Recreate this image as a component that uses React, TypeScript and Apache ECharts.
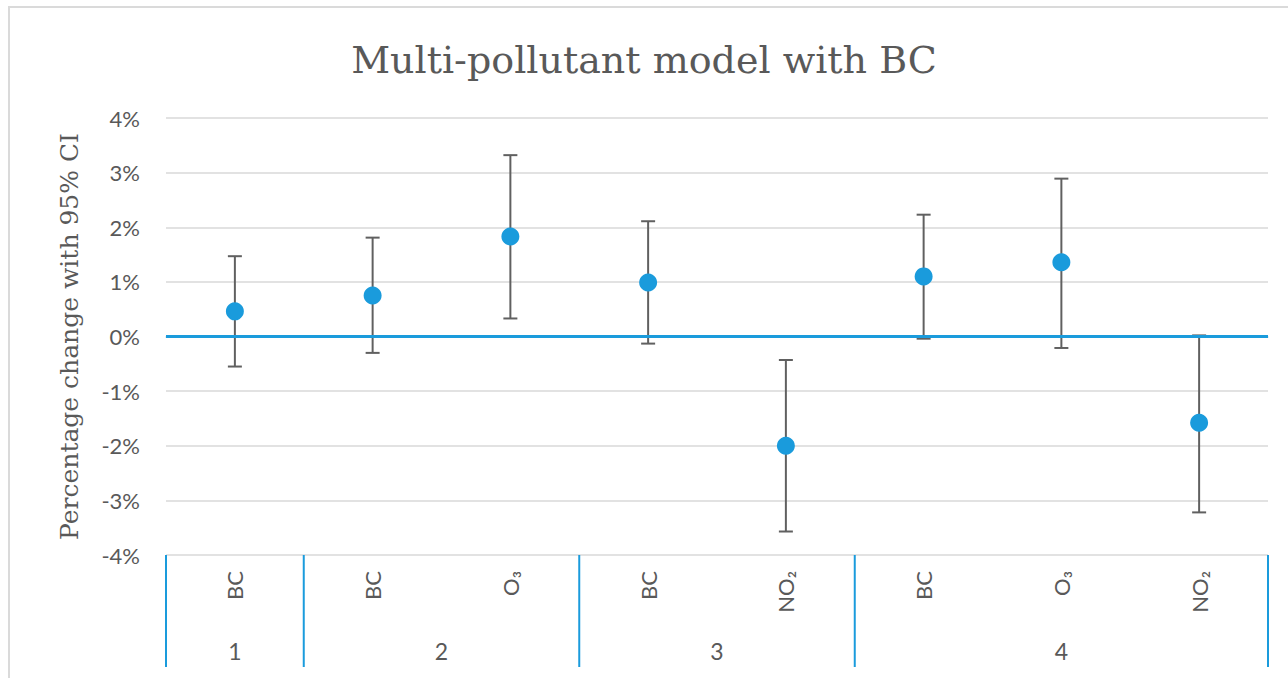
import React, { useEffect, useRef } from "react";
import * as echarts from "echarts";

// Pollutant per model column (models 1–4)
const categories = ["BC", "BC", "O₃", "BC", "NO₂", "BC", "O₃", "NO₂"];
// Point estimates and 95% CI bounds, in percent
const estimates = [0.46, 0.75, 1.83, 0.99, -2.0, 1.1, 1.36, -1.58];
const lowerCI = [-0.55, -0.3, 0.33, -0.13, -3.57, -0.04, -0.21, -3.22];
const upperCI = [1.47, 1.81, 3.32, 2.11, -0.43, 2.23, 2.89, 0.02];
// Model groups: label, first column, last column + 1
const groupLabels = ["1", "2", "3", "4"];
const groupBounds = [0, 1, 3, 5, 8];
const yTicks = [-4, -3, -2, -1, 0, 1, 2, 3, 4];

const GRAY_TEXT = "#595959";
const BLUE = "#1A9BDC";
const GRID = "#D9D9D9";
const SANS = "Lato, 'DejaVu Sans', sans-serif";
const SERIF = "'DejaVu Serif', 'Liberation Serif', serif";

export default function App() {
  const ref = useRef<HTMLDivElement>(null);

  useEffect(() => {
    if (!ref.current) return;
    const chart = echarts.init(ref.current, null, { renderer: "svg" });

    const yMin = yTicks[0];
    const groupCenters = groupLabels.map((_, i) => [
      (groupBounds[i] + groupBounds[i + 1]) / 2,
      i,
    ]);

    chart.setOption({
      animation: false,
      backgroundColor: "#ffffff",
      title: {
        text: "Multi-pollutant model with BC",
        left: "center",
        top: 36,
        textStyle: {
          fontFamily: SERIF,
          fontSize: 38,
          fontWeight: "normal",
          color: GRAY_TEXT,
        },
      },
      graphic: [
        {
          type: "rect",
          shape: { x: 9, y: 7, width: 1300, height: 700 },
          style: { fill: "none", stroke: "#DADADA", lineWidth: 2 },
          silent: true,
        },
      ],
      grid: { left: 166, right: 20, top: 118, bottom: 123 },
      xAxis: [
        {
          type: "category",
          data: categories,
          boundaryGap: true,
          axisLine: { show: true, lineStyle: { color: GRID, width: 1.5 } },
          axisTick: { show: false },
          axisLabel: {
            rotate: 90,
            margin: 16,
            fontFamily: SANS,
            fontSize: 22,
            color: GRAY_TEXT,
          },
          splitLine: { show: false },
        },
        {
          type: "value",
          min: 0,
          max: categories.length,
          show: false,
        },
      ],
      yAxis: {
        type: "value",
        min: yMin,
        max: yTicks[yTicks.length - 1],
        interval: 1,
        name: "Percentage change with 95% CI",
        nameLocation: "middle",
        nameGap: 84,
        nameRotate: 90,
        nameTextStyle: {
          fontFamily: SERIF,
          fontSize: 25,
          color: GRAY_TEXT,
        },
        axisLine: { show: false },
        axisTick: { show: false },
        axisLabel: {
          formatter: (v: number) => `${v}%`,
          margin: 26,
          fontFamily: SANS,
          fontSize: 22,
          color: GRAY_TEXT,
        },
        splitLine: { show: true, lineStyle: { color: GRID, width: 1.5 } },
      },
      series: [
        {
          // zero reference line
          type: "line",
          data: [],
          z: 1,
          markLine: {
            silent: true,
            symbol: "none",
            label: { show: false },
            lineStyle: { color: BLUE, width: 3, type: "solid" },
            data: [{ yAxis: 0 }],
          },
        },
        {
          // 95% confidence interval whiskers
          type: "custom",
          z: 3,
          data: categories.map((_, i) => [i, lowerCI[i], upperCI[i]]),
          renderItem: (params: any, api: any) => {
            const lo = api.coord([api.value(0), api.value(1)]);
            const hi = api.coord([api.value(0), api.value(2)]);
            const cap = 7;
            const style = { stroke: "#606060", lineWidth: 2 };
            return {
              type: "group",
              children: [
                { type: "line", shape: { x1: lo[0], y1: lo[1], x2: hi[0], y2: hi[1] }, style },
                { type: "line", shape: { x1: hi[0] - cap, y1: hi[1], x2: hi[0] + cap, y2: hi[1] }, style },
                { type: "line", shape: { x1: lo[0] - cap, y1: lo[1], x2: lo[0] + cap, y2: lo[1] }, style },
              ],
            };
          },
        },
        {
          type: "scatter",
          z: 4,
          symbol: "circle",
          symbolSize: 18,
          itemStyle: { color: BLUE, opacity: 1 },
          data: estimates.map((v, i) => [i, v]),
        },
        {
          // group separators below the axis
          type: "custom",
          xAxisIndex: 1,
          clip: false,
          silent: true,
          data: groupBounds.map((b) => [b, yMin]),
          renderItem: (params: any, api: any) => {
            const p = api.coord([api.value(0), api.value(1)]);
            return {
              type: "line",
              shape: { x1: p[0], y1: p[1], x2: p[0], y2: p[1] + 112 },
              style: { stroke: BLUE, lineWidth: 2 },
            };
          },
        },
        {
          // model group labels
          type: "custom",
          xAxisIndex: 1,
          clip: false,
          silent: true,
          data: groupCenters,
          renderItem: (params: any, api: any) => {
            const p = api.coord([api.value(0), yMin]);
            return {
              type: "text",
              x: p[0],
              y: p[1] + 96,
              style: {
                text: groupLabels[api.value(1)],
                fontFamily: SANS,
                fontSize: 23,
                fill: GRAY_TEXT,
                align: "center",
                verticalAlign: "middle",
              },
            };
          },
        },
      ],
    });

    return () => chart.dispose();
  }, []);

  return (
    <div
      ref={ref}
      style={{ position: "fixed", left: 0, top: 0, width: 1288, height: 678 }}
    />
  );
}
